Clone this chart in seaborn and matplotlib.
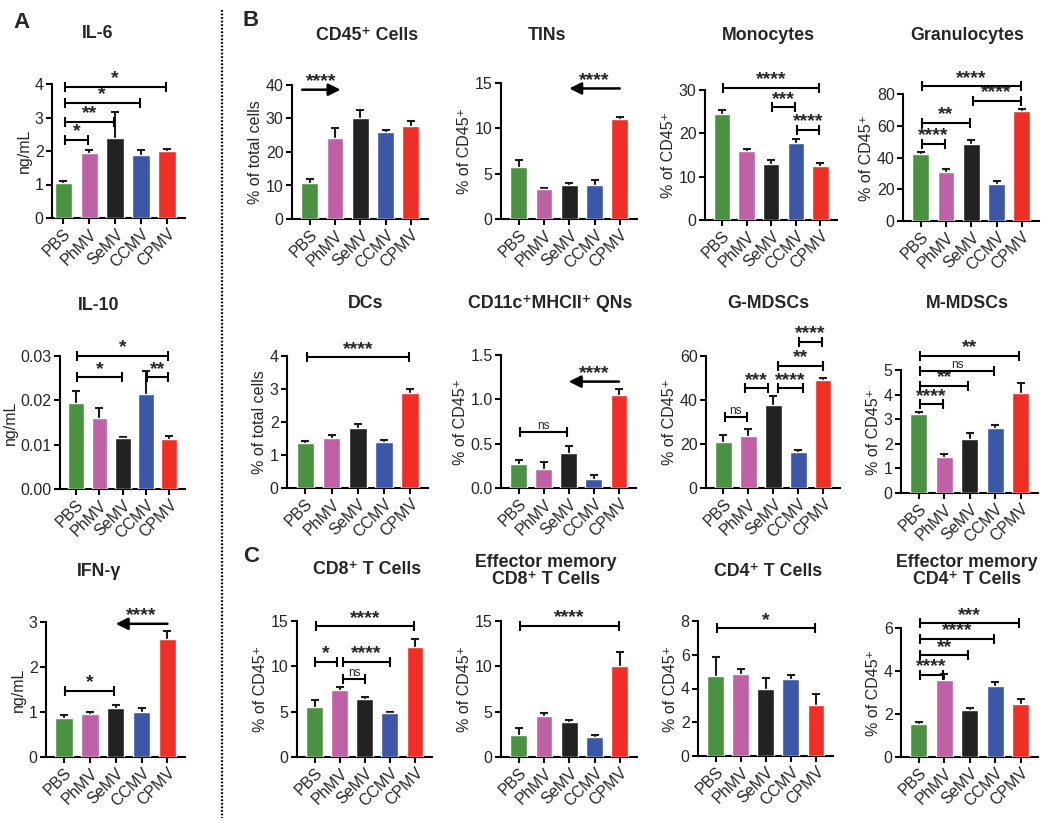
import matplotlib
matplotlib.use("Agg")
import matplotlib.pyplot as plt
from matplotlib.lines import Line2D
import seaborn as sns

GROUPS = ["PBS", "PhMV", "SeMV", "CCMV", "CPMV"]
COLORS = ["#4a9142", "#bf61a5", "#222222", "#3b57a5", "#ee2f25"]

# ---- panel A: serum cytokines (ng/mL), mean and SEM
il6_mean = [1.03, 1.95, 2.40, 1.88, 2.00]
il6_sem = [0.06, 0.07, 0.75, 0.16, 0.07]
il10_mean = [0.0193, 0.0160, 0.0115, 0.0215, 0.0113]
il10_sem = [0.0029, 0.0023, 0.0003, 0.0051, 0.0007]
ifng_mean = [0.86, 0.95, 1.09, 1.00, 2.63]
ifng_sem = [0.07, 0.04, 0.07, 0.10, 0.17]

# ---- panel B: innate cells
cd45_mean = [10.6, 24.2, 30.2, 26.0, 27.8]
cd45_sem = [1.2, 3.0, 2.4, 0.6, 1.4]
tin_mean = [5.7, 3.3, 3.7, 3.7, 11.0]
tin_sem = [0.8, 0.1, 0.3, 0.6, 0.3]
mono_mean = [24.4, 15.9, 13.0, 17.7, 12.5]
mono_sem = [0.9, 0.4, 0.8, 0.9, 0.7]
gran_mean = [42.5, 31.0, 48.8, 23.6, 69.5]
gran_sem = [0.8, 2.0, 2.0, 1.6, 1.0]
dc_mean = [1.37, 1.50, 1.83, 1.39, 2.88]
dc_sem = [0.04, 0.12, 0.10, 0.05, 0.13]
qn_mean = [0.27, 0.21, 0.40, 0.105, 1.05]
qn_sem = [0.05, 0.08, 0.075, 0.04, 0.065]
gmdsc_mean = [21.0, 23.8, 37.8, 16.2, 49.0]
gmdsc_sem = [3.3, 3.0, 4.0, 1.2, 0.8]
mmdsc_mean = [3.20, 1.45, 2.20, 2.65, 4.05]
mmdsc_sem = [0.10, 0.13, 0.25, 0.12, 0.42]

# ---- panel C: T cells
cd8_mean = [5.5, 7.4, 6.45, 4.8, 12.15]
cd8_sem = [0.8, 0.35, 0.18, 0.18, 0.9]
emcd8_mean = [2.45, 4.5, 3.85, 2.2, 10.05]
emcd8_sem = [0.8, 0.3, 0.2, 0.18, 1.55]
cd4_mean = [4.75, 4.87, 3.95, 4.58, 3.05]
cd4_sem = [1.1, 0.28, 0.65, 0.2, 0.65]
emcd4_mean = [1.55, 3.60, 2.17, 3.30, 2.45]
emcd4_sem = [0.06, 0.26, 0.11, 0.20, 0.23]

# significance: (group1, group2, height, label[, end nudges])
il6_sig = [("PBS", "PhMV", 2.33, "*"), ("PBS", "SeMV", 2.87, "**"),
           ("PBS", "CCMV", 3.44, "*"), ("PBS", "CPMV", 3.92, "*")]
il10_sig = [("PBS", "SeMV", 0.0252, "*"), ("CCMV", "CPMV", 0.0252, "**"),
            ("PBS", "CPMV", 0.030, "*")]
ifng_sig = [("PBS", "SeMV", 1.47, "*")]
mono_sig = [("PBS", "CPMV", 30.5, "****"), ("SeMV", "CCMV", 26.0, "***"),
            ("CCMV", "CPMV", 20.8, "****")]
gran_sig = [("PBS", "PhMV", 48.8, "****"), ("PBS", "SeMV", 61.9, "**"),
            ("SeMV", "CPMV", 75.6, "****"), ("PBS", "CPMV", 85.0, "****")]
dc_sig = [("PBS", "CPMV", 3.96, "****")]
qn_sig = [("PBS", "SeMV", 0.63, "ns")]
gmdsc_sig = [("PBS", "PhMV", 32.2, "ns"), ("PhMV", "SeMV", 45.3, "***", (-0.13, -0.2)),
             ("SeMV", "CCMV", 45.3, "****", (0.2, 0.19)), ("SeMV", "CPMV", 55.6, "**", (0.2, 0)),
             ("CCMV", "CPMV", 66.5, "****")]
mmdsc_sig = [("PBS", "PhMV", 3.6, "****"), ("PBS", "SeMV", 4.36, "**"),
             ("PBS", "CCMV", 4.97, "ns"), ("PBS", "CPMV", 5.57, "**")]
cd8_sig = [("PBS", "CPMV", 14.4, "****"), ("PBS", "PhMV", 10.5, "*", (0, -0.1)),
           ("PhMV", "CCMV", 10.5, "****", (0.15, 0)), ("PhMV", "SeMV", 8.6, "ns", (0.15, 0))]
emcd8_sig = [("PBS", "CPMV", 14.45, "****")]
cd4_sig = [("PBS", "CPMV", 7.57, "*")]
emcd4_sig = [("PBS", "PhMV", 3.83, "****"), ("PBS", "SeMV", 4.73, "**"),
             ("PBS", "CCMV", 5.49, "****"), ("PBS", "CPMV", 6.22, "***")]

# arrows: (from, to, height, label[, end nudges])
cd45_arrow = ("PBS", "PhMV", 38.6, "****", (-0.3, 0.22))
tin_arrow = ("CPMV", "SeMV", 14.4, "****")
ifng_arrow = ("CPMV", "SeMV", 2.96, "****")
qn_arrow = ("CPMV", "SeMV", 1.2, "****")

PCT45 = "% of CD45\u207a"
PANELS = [
    dict(title="IL-6", ylabel="ng/mL", mean=il6_mean, sem=il6_sem, ymax=4, step=1, fmt="{:.0f}", sig=il6_sig),
    dict(title="IL-10", ylabel="ng/mL", mean=il10_mean, sem=il10_sem, ymax=0.03, step=0.01, fmt="{:.2f}", sig=il10_sig),
    dict(title="IFN-\u03b3", ylabel="ng/mL", mean=ifng_mean, sem=ifng_sem, ymax=3, step=1, fmt="{:.0f}", sig=ifng_sig, arrow=ifng_arrow),
    dict(title="CD45\u207a Cells", ylabel="% of total cells", mean=cd45_mean, sem=cd45_sem, ymax=40, step=10, fmt="{:.0f}", sig=[], arrow=cd45_arrow),
    dict(title="TINs", ylabel=PCT45, mean=tin_mean, sem=tin_sem, ymax=15, step=5, fmt="{:.0f}", sig=[], arrow=tin_arrow),
    dict(title="Monocytes", ylabel=PCT45, mean=mono_mean, sem=mono_sem, ymax=30, step=10, fmt="{:.0f}", sig=mono_sig),
    dict(title="Granulocytes", ylabel=PCT45, mean=gran_mean, sem=gran_sem, ymax=80, step=20, fmt="{:.0f}", sig=gran_sig),
    dict(title="DCs", ylabel="% of total cells", mean=dc_mean, sem=dc_sem, ymax=4, step=1, fmt="{:.0f}", sig=dc_sig),
    dict(title="CD11c\u207aMHCII\u207a QNs", ylabel=PCT45, mean=qn_mean, sem=qn_sem, ymax=1.5, step=0.5, fmt="{:.1f}", sig=qn_sig, arrow=qn_arrow),
    dict(title="G-MDSCs", ylabel=PCT45, mean=gmdsc_mean, sem=gmdsc_sem, ymax=60, step=20, fmt="{:.0f}", sig=gmdsc_sig),
    dict(title="M-MDSCs", ylabel=PCT45, mean=mmdsc_mean, sem=mmdsc_sem, ymax=5, step=1, fmt="{:.0f}", sig=mmdsc_sig),
    dict(title="CD8\u207a T Cells", ylabel=PCT45, mean=cd8_mean, sem=cd8_sem, ymax=15, step=5, fmt="{:.0f}", sig=cd8_sig),
    dict(title="Effector memory\nCD8\u207a T Cells", ylabel=PCT45, mean=emcd8_mean, sem=emcd8_sem, ymax=15, step=5, fmt="{:.0f}", sig=emcd8_sig),
    dict(title="CD4\u207a T Cells", ylabel=PCT45, mean=cd4_mean, sem=cd4_sem, ymax=8, step=2, fmt="{:.0f}", sig=cd4_sig),
    dict(title="Effector memory\nCD4\u207a T Cells", ylabel=PCT45, mean=emcd4_mean, sem=emcd4_sem, ymax=6, step=2, fmt="{:.0f}", sig=emcd4_sig),
]

# layout in pixels: axes box (left, top, right, bottom) and title centre
W, H = 1050, 824
BOXES = [(52, 84, 185, 218), (60, 356, 185, 489), (46, 622, 185, 757),
         (292, 85, 428, 219), (501, 83, 637, 219), (705, 90, 837, 220), (903, 94, 1039, 221),
         (287, 356, 428, 488), (501, 355, 636, 488), (706, 356, 840, 488), (901, 370, 1038, 493),
         (297, 621, 432, 757), (501, 621, 637, 757), (698, 621, 833, 756), (901, 628, 1038, 757)]
TITLE_XY = [(98, 33), (99, 305), (99, 572),
            (367, 35), (547, 35), (768, 35), (967, 35),
            (366, 303), (550, 303), (768, 303), (967, 303),
            (367, 570), (546, 571), (768, 571), (967, 571)]
XLIMS = {0: (-0.44, 4.7)}

sns.set_style("ticks")
plt.rcParams["font.family"] = ["Liberation Sans", "DejaVu Sans"]
plt.rcParams["axes.linewidth"] = 1.5


def star_text(ax, x, y, label):
    if label == "ns":
        fs, dy, weight = 8.5, 2.0, "normal"
    else:
        fs, dy, weight = 14, 2.5, "bold"
    ax.annotate(label, (x, y), xytext=(0, dy), textcoords="offset points",
                ha="center", va="baseline", fontsize=fs, fontweight=weight,
                annotation_clip=False)


def bracket(ax, g1, g2, y, label, nudge=(0.05, -0.05)):
    x1, x2 = GROUPS.index(g1) + nudge[0], GROUPS.index(g2) + nudge[1]
    ax.plot([x1, x2], [y, y], color="k", lw=1.5, marker="|", ms=7, mew=1.5,
            clip_on=False, zorder=5)
    star_text(ax, (x1 + x2) / 2, y, label)


def arrow(ax, g_from, g_to, y, label, nudge=(0, 0)):
    x0, x1 = GROUPS.index(g_from) + nudge[0], GROUPS.index(g_to) + nudge[1]
    ax.annotate("", xy=(x1, y), xytext=(x0, y),
                arrowprops=dict(arrowstyle="-|>", color="k", lw=1.8,
                                mutation_scale=18, shrinkA=0, shrinkB=0),
                annotation_clip=False)
    star_text(ax, (x0 + x1) / 2, y, label)


def draw_panel(fig, i, spec):
    l, t, r, b = BOXES[i]
    ax = fig.add_axes([l / W, 1 - b / H, (r - l) / W, (b - t) / H])
    sns.barplot(x=GROUPS, y=spec["mean"], hue=GROUPS, palette=COLORS,
                order=GROUPS, hue_order=GROUPS, legend=False, width=0.67,
                saturation=1, errorbar=None, ax=ax)
    for p, e in zip(ax.patches, spec["sem"]):
        p.set_zorder(3)
        cx = p.get_x() + p.get_width() / 2
        ax.errorbar(cx, p.get_height(), yerr=e, fmt="none", ecolor="#1a1a1a",
                    elinewidth=1.5, capsize=3, capthick=1.5, zorder=2)
    ax.set_xlim(*XLIMS.get(i, (-0.7, 4.68)))
    ymax, step = spec["ymax"], spec["step"]
    ax.set_ylim(0, ymax)
    ticks = [k * step for k in range(int(round(ymax / step)) + 1)]
    ax.set_yticks(ticks)
    ax.set_yticklabels([spec["fmt"].format(v) for v in ticks])
    ax.set_xlabel("")
    ax.set_ylabel(spec["ylabel"], fontsize=11.5, labelpad=2)
    ax.tick_params(width=1.5, length=4, labelsize=11.5, pad=2, color="k")
    plt.setp(ax.get_xticklabels(), rotation=45, ha="right", rotation_mode="anchor")
    sns.despine(ax=ax)
    for s in ("left", "bottom"):
        ax.spines[s].set_color("k")
    for entry in spec["sig"]:
        bracket(ax, *entry)
    if "arrow" in spec:
        arrow(ax, *spec["arrow"])
    tx, ty = TITLE_XY[i]
    fig.text(tx / W, 1 - ty / H, spec["title"], ha="center", va="center",
             fontsize=12.8, fontweight="bold", linespacing=1.05)
    return ax


fig = plt.figure(figsize=(W / 100, H / 100), dpi=100)
for i, spec in enumerate(PANELS):
    draw_panel(fig, i, spec)

for letter, (px, py) in zip("ABC", [(22, 22), (251, 20), (251, 557)]):
    fig.text(px / W, 1 - py / H, letter, ha="center", va="center",
             fontsize=16, fontweight="bold")

fig.add_artist(Line2D([222 / W, 222 / W], [1 - 10 / H, 1 - 818 / H],
                      transform=fig.transFigure, color="k", lw=1.6,
                      ls=(0, (0.8, 0.8))))

fig.savefig("out.png", dpi=100)
